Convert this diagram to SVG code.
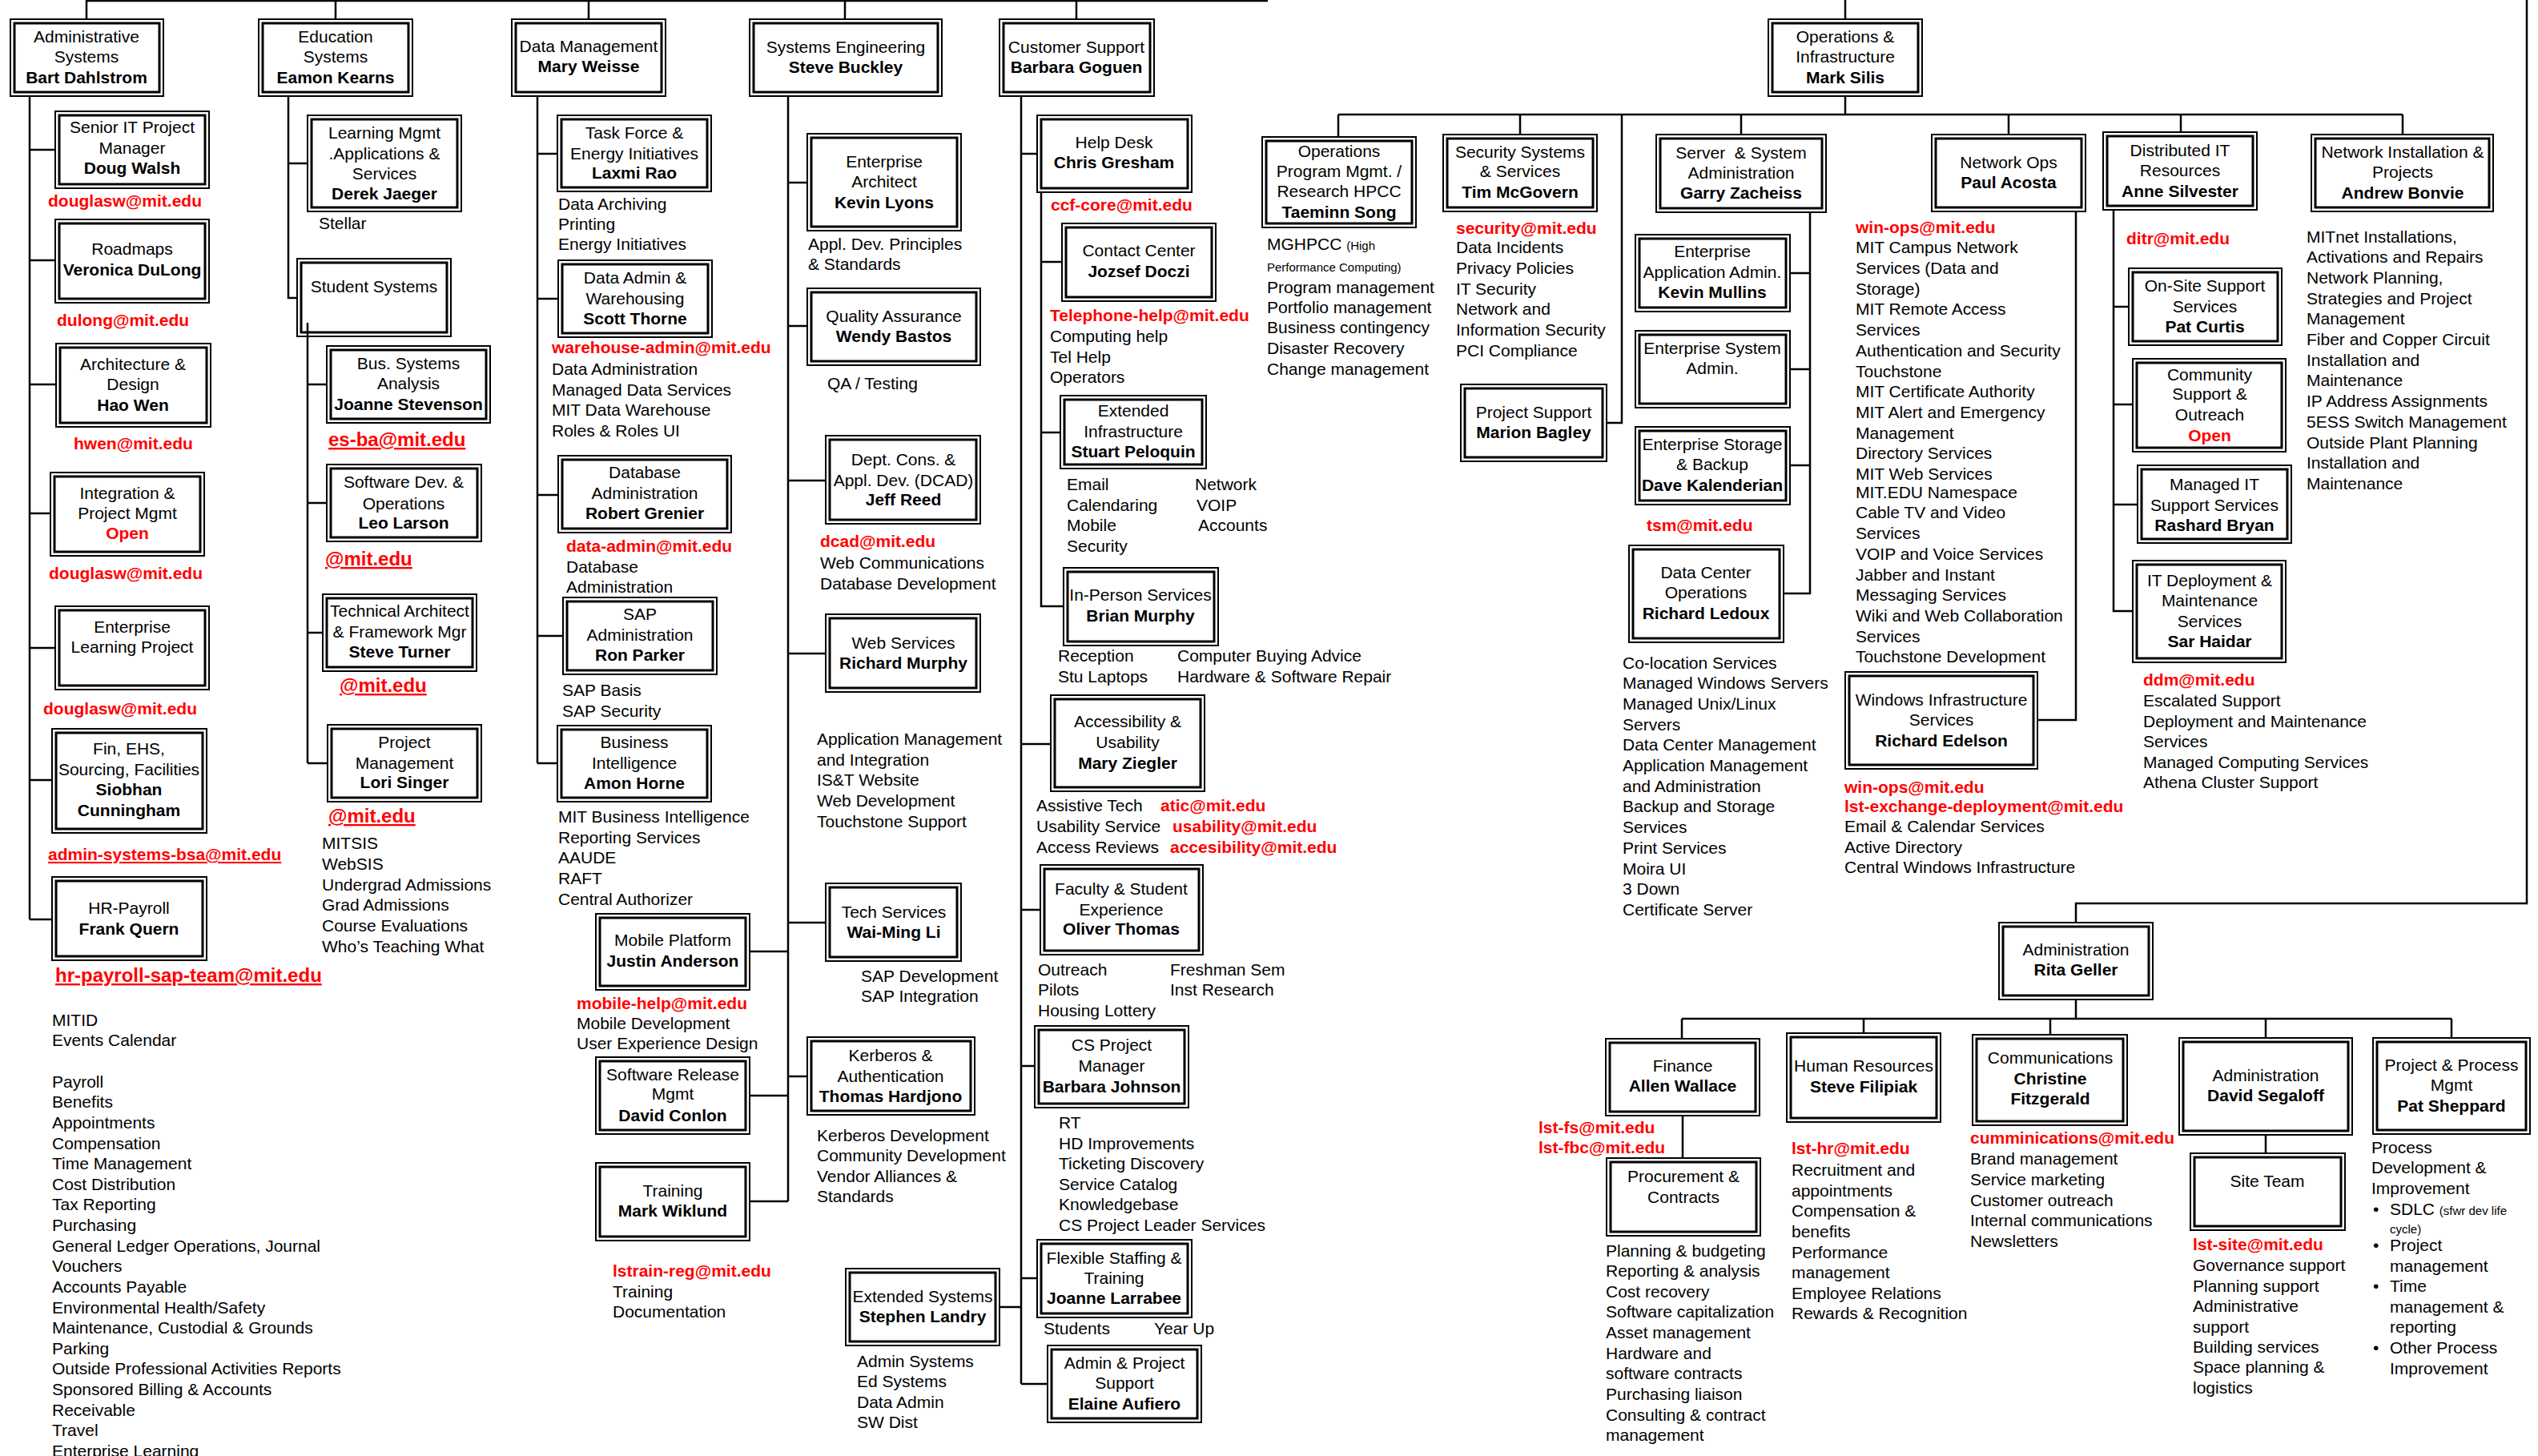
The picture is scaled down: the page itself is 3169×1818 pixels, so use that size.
<svg xmlns="http://www.w3.org/2000/svg" width="3169" height="1818" viewBox="0 0 3169 1818">
<style>
text{font-family:"Liberation Sans",Arial,sans-serif;font-size:21px;fill:#000}
.m{text-anchor:middle}
.b{font-weight:bold}
.r{fill:#f00;font-weight:bold}
.u{text-decoration:underline}
.L{font-size:24px}
.s{font-size:15px}
.ln{stroke:#000;stroke-width:2.5;fill:none}
.bo{fill:#fff;stroke:#000;stroke-width:2}
.bi{fill:none;stroke:#000;stroke-width:3}
</style>
<rect width="3169" height="1818" fill="#fff"/>
<g id="connectors" class="ln">
<path d="M108,1H1583M108,0V24M419,0V24M735,0V24M1055,0V24M1344,0V24"/>
<path d="M2304,0V24M2304,120V143M1671,143H3000M1671,143V171M1898,143V168M2025,143V528H2006M2174,143V168M2508,143V168M2723,143V165M3000,143V168"/>
<path d="M37,120V1148M37,187H69M37,325H69M37,480H70M37,641H63M37,809H69M37,974H65M37,1148H65"/>
<path d="M360,120V372H371M360,204H384M384,403V953M384,480H408M384,628H408M384,790H403M384,953H409"/>
<path d="M671,120V953M671,192H696M671,373H697M671,618H697M671,794H703M671,953H696"/>
<path d="M984,120V1500M984,228H1008M984,407H1008M984,600H1031M984,816H1031M984,1152H1031M984,1344H1008M984,1188H936M984,1368H936M984,1500H936"/>
<path d="M1275,120V1728M1275,192H1295M1275,929H1312M1275,1136H1299M1275,1331H1292M1275,1596H1295M1275,1632H1248M1275,1728H1308"/>
<path d="M1300,240V757H1328M1300,327H1326M1300,540H1324"/>
<path d="M2260,265V741H2227M2260,341H2235M2260,461H2235M2260,581H2235"/>
<path d="M2592,264V899H2544"/>
<path d="M2639,262V763H2663M2639,383H2658M2639,505H2663M2639,630H2669"/>
<path d="M3155,0V1128H2592V1152M2592,1248V1272M2100,1272H3061M2100,1272V1297M2327,1272V1290M2560,1272V1292M2829,1272V1296M3061,1272V1296M2101,1393V1446M2829,1417V1440"/>
</g>

<g id="admin-systems"><rect class="bo" x="13" y="24" width="191" height="96"/><rect class="bi" x="18" y="29" width="181" height="86"/>
<text class="m" x="108" y="53">Administrative</text><text class="m" x="108" y="78">Systems</text><text class="m b" x="108" y="104">Bart Dahlstrom</text></g>
<g id="senior-it"><rect class="bo" x="69" y="139" width="192" height="96"/><rect class="bi" x="74" y="144" width="182" height="86"/>
<text class="m" x="165" y="166">Senior IT Project</text><text class="m" x="165" y="192">Manager</text><text class="m b" x="165" y="217">Doug Walsh</text>
<text class="r" x="60" y="258">douglasw@mit.edu</text></g>
<g id="roadmaps"><rect class="bo" x="69" y="274" width="192" height="104"/><rect class="bi" x="74" y="279" width="182" height="94"/>
<text class="m" x="165" y="318">Roadmaps</text><text class="m b" x="165" y="344">Veronica DuLong</text>
<text class="r" x="71" y="407">dulong@mit.edu</text></g>
<g id="architecture"><rect class="bo" x="70" y="429" width="193" height="104"/><rect class="bi" x="75" y="434" width="183" height="94"/>
<text class="m" x="166" y="462">Architecture &amp;</text><text class="m" x="166" y="487">Design</text><text class="m b" x="166" y="513">Hao Wen</text>
<text class="r" x="92" y="561">hwen@mit.edu</text></g>
<g id="integration"><rect class="bo" x="63" y="590" width="192" height="104"/><rect class="bi" x="68" y="595" width="182" height="94"/>
<text class="m" x="159" y="623">Integration &amp;</text><text class="m" x="159" y="648">Project Mgmt</text><text class="m r" x="159" y="673">Open</text>
<text class="r" x="61" y="723">douglasw@mit.edu</text></g>
<g id="enterprise-learning"><rect class="bo" x="69" y="757" width="192" height="104"/><rect class="bi" x="74" y="762" width="182" height="94"/>
<text class="m" x="165" y="790">Enterprise</text><text class="m" x="165" y="815">Learning Project</text>
<text class="r" x="54" y="892">douglasw@mit.edu</text></g>
<g id="fin-ehs"><rect class="bo" x="65" y="910" width="193" height="130"/><rect class="bi" x="70" y="915" width="183" height="120"/>
<text class="m" x="161" y="942">Fin, EHS,</text><text class="m" x="161" y="968">Sourcing, Facilities</text><text class="m b" x="161" y="993">Siobhan</text><text class="m b" x="161" y="1019">Cunningham</text>
<text class="r u" x="60" y="1074">admin-systems-bsa@mit.edu</text></g>
<g id="hr-payroll"><rect class="bo" x="65" y="1095" width="193" height="104"/><rect class="bi" x="70" y="1100" width="183" height="94"/>
<text class="m" x="161" y="1141">HR-Payroll</text><text class="m b" x="161" y="1167">Frank Quern</text>
<text class="r u L" x="69" y="1226">hr-payroll-sap-team@mit.edu</text>
<text><tspan x="65" y="1281">MITID</tspan><tspan x="65" y="1306">Events Calendar</tspan><tspan x="65" y="1358">Payroll</tspan><tspan x="65" y="1383">Benefits</tspan><tspan x="65" y="1409">Appointments</tspan><tspan x="65" y="1435">Compensation</tspan><tspan x="65" y="1460">Time Management</tspan><tspan x="65" y="1486">Cost Distribution</tspan><tspan x="65" y="1511">Tax Reporting</tspan><tspan x="65" y="1537">Purchasing</tspan><tspan x="65" y="1563">General Ledger Operations, Journal</tspan><tspan x="65" y="1588">Vouchers</tspan><tspan x="65" y="1614">Accounts Payable</tspan><tspan x="65" y="1640">Environmental Health/Safety</tspan><tspan x="65" y="1665">Maintenance, Custodial &amp; Grounds</tspan><tspan x="65" y="1691">Parking</tspan><tspan x="65" y="1716">Outside Professional Activities Reports</tspan><tspan x="65" y="1742">Sponsored Billing &amp; Accounts</tspan><tspan x="65" y="1768">Receivable</tspan><tspan x="65" y="1793">Travel</tspan><tspan x="65" y="1819">Enterprise Learning</tspan></text></g>

<g id="education-systems"><rect class="bo" x="323" y="24" width="192" height="96"/><rect class="bi" x="328" y="29" width="182" height="86"/>
<text class="m" x="419" y="53">Education</text><text class="m" x="419" y="78">Systems</text><text class="m b" x="419" y="104">Eamon Kearns</text></g>
<g id="learning-mgmt"><rect class="bo" x="384" y="144" width="192" height="120"/><rect class="bi" x="389" y="149" width="182" height="110"/>
<text class="m" x="480" y="173">Learning Mgmt</text><text class="m" x="480" y="199">.Applications &amp;</text><text class="m" x="480" y="224">Services</text><text class="m b" x="480" y="249">Derek Jaeger</text>
<text x="398" y="286">Stellar</text></g>
<g id="student-systems"><rect class="bo" x="371" y="323" width="192" height="97"/><rect class="bi" x="376" y="328" width="182" height="87"/>
<text class="m" x="467" y="365">Student Systems</text></g>
<path class="ln" d="M384,403V420"/>
<g id="bus-systems"><rect class="bo" x="408" y="432" width="204" height="96"/><rect class="bi" x="413" y="437" width="194" height="86"/>
<text class="m" x="510" y="461">Bus. Systems</text><text class="m" x="510" y="486">Analysis</text><text class="m b" x="510" y="512">Joanne Stevenson</text>
<text class="r u L" x="410" y="557">es-ba@mit.edu</text></g>
<g id="software-dev"><rect class="bo" x="408" y="580" width="193" height="96"/><rect class="bi" x="413" y="585" width="183" height="86"/>
<text class="m" x="504" y="609">Software Dev. &amp;</text><text class="m" x="504" y="636">Operations</text><text class="m b" x="504" y="660">Leo Larson</text>
<text class="r u L" x="406" y="706">@mit.edu</text></g>
<g id="tech-architect"><rect class="bo" x="403" y="742" width="192" height="96"/><rect class="bi" x="408" y="747" width="182" height="86"/>
<text class="m" x="499" y="770">Technical Architect</text><text class="m" x="499" y="796">&amp; Framework Mgr</text><text class="m b" x="499" y="821">Steve Turner</text>
<text class="r u L" x="424" y="864">@mit.edu</text></g>
<g id="project-mgmt"><rect class="bo" x="409" y="905" width="192" height="96"/><rect class="bi" x="414" y="910" width="182" height="86"/>
<text class="m" x="505" y="934">Project</text><text class="m" x="505" y="960">Management</text><text class="m b" x="505" y="984">Lori Singer</text>
<text class="r u L" x="410" y="1027">@mit.edu</text>
<text><tspan x="402" y="1060">MITSIS</tspan><tspan x="402" y="1086">WebSIS</tspan><tspan x="402" y="1112">Undergrad Admissions</tspan><tspan x="402" y="1137">Grad Admissions</tspan><tspan x="402" y="1163">Course Evaluations</tspan><tspan x="402" y="1189">Who’s Teaching What</tspan></text></g>

<g id="data-management"><rect class="bo" x="639" y="24" width="192" height="96"/><rect class="bi" x="644" y="29" width="182" height="86"/>
<text class="m" x="735" y="65">Data Management</text><text class="m b" x="735" y="90">Mary Weisse</text></g>
<g id="task-force"><rect class="bo" x="696" y="144" width="192" height="95"/><rect class="bi" x="701" y="149" width="182" height="85"/>
<text class="m" x="792" y="173">Task Force &amp;</text><text class="m" x="792" y="199">Energy Initiatives</text><text class="m b" x="792" y="223">Laxmi Rao</text>
<text><tspan x="697" y="262">Data Archiving</tspan><tspan x="697" y="287">Printing</tspan><tspan x="697" y="312">Energy Initiatives</tspan></text></g>
<g id="data-admin"><rect class="bo" x="697" y="325" width="192" height="96"/><rect class="bi" x="702" y="330" width="182" height="86"/>
<text class="m" x="793" y="354">Data Admin &amp;</text><text class="m" x="793" y="380">Warehousing</text><text class="m b" x="793" y="405">Scott Thorne</text>
<text class="r" x="689" y="441">warehouse-admin@mit.edu</text>
<text><tspan x="689" y="468">Data Administration</tspan><tspan x="689" y="494">Managed Data Services</tspan><tspan x="689" y="519">MIT Data Warehouse</tspan><tspan x="689" y="545">Roles &amp; Roles UI</tspan></text></g>
<g id="database-admin"><rect class="bo" x="697" y="569" width="216" height="96"/><rect class="bi" x="702" y="574" width="206" height="86"/>
<text class="m" x="805" y="597">Database</text><text class="m" x="805" y="623">Administration</text><text class="m b" x="805" y="648">Robert Grenier</text>
<text class="r" x="707" y="689">data-admin@mit.edu</text>
<text><tspan x="707" y="715">Database</tspan><tspan x="707" y="740">Administration</tspan></text></g>
<g id="sap-admin"><rect class="bo" x="703" y="746" width="192" height="96"/><rect class="bi" x="708" y="751" width="182" height="86"/>
<text class="m" x="799" y="774">SAP</text><text class="m" x="799" y="800">Administration</text><text class="m b" x="799" y="825">Ron Parker</text>
<text><tspan x="702" y="869">SAP Basis</tspan><tspan x="702" y="895">SAP Security</tspan></text></g>
<g id="business-intelligence"><rect class="bo" x="696" y="906" width="192" height="95"/><rect class="bi" x="701" y="911" width="182" height="85"/>
<text class="m" x="792" y="934">Business</text><text class="m" x="792" y="960">Intelligence</text><text class="m b" x="792" y="985">Amon Horne</text>
<text><tspan x="697" y="1027">MIT Business Intelligence</tspan><tspan x="697" y="1053">Reporting Services</tspan><tspan x="697" y="1078">AAUDE</tspan><tspan x="697" y="1104">RAFT</tspan><tspan x="697" y="1130">Central Authorizer</tspan></text></g>
<g id="mobile-platform"><rect class="bo" x="744" y="1141" width="192" height="95"/><rect class="bi" x="749" y="1146" width="182" height="85"/>
<text class="m" x="840" y="1181">Mobile Platform</text><text class="m b" x="840" y="1207">Justin Anderson</text>
<text class="r" x="720" y="1260">mobile-help@mit.edu</text>
<text><tspan x="720" y="1285">Mobile Development</tspan><tspan x="720" y="1310">User Experience Design</tspan></text></g>
<g id="software-release"><rect class="bo" x="744" y="1320" width="192" height="96"/><rect class="bi" x="749" y="1325" width="182" height="86"/>
<text class="m" x="840" y="1349">Software Release</text><text class="m" x="840" y="1373">Mgmt</text><text class="m b" x="840" y="1400">David Conlon</text></g>
<g id="training"><rect class="bo" x="744" y="1452" width="192" height="97"/><rect class="bi" x="749" y="1457" width="182" height="87"/>
<text class="m" x="840" y="1494">Training</text><text class="m b" x="840" y="1519">Mark Wiklund</text>
<text class="r" x="765" y="1594">lstrain-reg@mit.edu</text>
<text><tspan x="765" y="1620">Training</tspan><tspan x="765" y="1645">Documentation</tspan></text></g>

<g id="systems-engineering"><rect class="bo" x="936" y="24" width="240" height="96"/><rect class="bi" x="941" y="29" width="230" height="86"/>
<text class="m" x="1056" y="66">Systems Engineering</text><text class="m b" x="1056" y="91">Steve Buckley</text></g>
<g id="enterprise-architect"><rect class="bo" x="1008" y="167" width="192" height="121"/><rect class="bi" x="1013" y="172" width="182" height="111"/>
<text class="m" x="1104" y="209">Enterprise</text><text class="m" x="1104" y="234">Architect</text><text class="m b" x="1104" y="260">Kevin Lyons</text>
<text><tspan x="1009" y="312">Appl. Dev. Principles</tspan><tspan x="1009" y="337">&amp; Standards</tspan></text></g>
<g id="quality-assurance"><rect class="bo" x="1008" y="360" width="216" height="96"/><rect class="bi" x="1013" y="365" width="206" height="86"/>
<text class="m" x="1116" y="402">Quality Assurance</text><text class="m b" x="1116" y="427">Wendy Bastos</text>
<text x="1033" y="486">QA / Testing</text></g>
<g id="dcad"><rect class="bo" x="1031" y="544" width="193" height="110"/><rect class="bi" x="1036" y="549" width="183" height="100"/>
<text class="m" x="1128" y="581">Dept. Cons. &amp;</text><text class="m" x="1128" y="607">Appl. Dev. (DCAD)</text><text class="m b" x="1128" y="631">Jeff Reed</text>
<text class="r" x="1024" y="683">dcad@mit.edu</text>
<text><tspan x="1024" y="710">Web Communications</tspan><tspan x="1024" y="736">Database Development</tspan></text></g>
<g id="web-services"><rect class="bo" x="1031" y="767" width="193" height="97"/><rect class="bi" x="1036" y="772" width="183" height="87"/>
<text class="m" x="1128" y="810">Web Services</text><text class="m b" x="1128" y="835">Richard Murphy</text>
<text><tspan x="1020" y="930">Application Management</tspan><tspan x="1020" y="956">and Integration</tspan><tspan x="1020" y="981">IS&amp;T Website</tspan><tspan x="1020" y="1007">Web Development</tspan><tspan x="1020" y="1033">Touchstone Support</tspan></text></g>
<g id="tech-services"><rect class="bo" x="1031" y="1103" width="169" height="97"/><rect class="bi" x="1036" y="1108" width="159" height="87"/>
<text class="m" x="1116" y="1146">Tech Services</text><text class="m b" x="1116" y="1171">Wai-Ming Li</text>
<text><tspan x="1075" y="1226">SAP Development</tspan><tspan x="1075" y="1251">SAP Integration</tspan></text></g>
<g id="kerberos"><rect class="bo" x="1008" y="1295" width="209" height="97"/><rect class="bi" x="1013" y="1300" width="199" height="87"/>
<text class="m" x="1112" y="1325">Kerberos &amp;</text><text class="m" x="1112" y="1351">Authentication</text><text class="m b" x="1112" y="1376">Thomas Hardjono</text>
<text><tspan x="1020" y="1425">Kerberos Development</tspan><tspan x="1020" y="1450">Community Development</tspan><tspan x="1020" y="1476">Vendor Alliances &amp;</tspan><tspan x="1020" y="1501">Standards</tspan></text></g>

<g id="customer-support"><rect class="bo" x="1248" y="24" width="193" height="96"/><rect class="bi" x="1253" y="29" width="183" height="86"/>
<text class="m" x="1344" y="66">Customer Support</text><text class="m b" x="1344" y="91">Barbara Goguen</text></g>
<g id="help-desk"><rect class="bo" x="1295" y="144" width="193" height="96"/><rect class="bi" x="1300" y="149" width="183" height="86"/>
<text class="m" x="1391" y="185">Help Desk</text><text class="m b" x="1391" y="210">Chris Gresham</text>
<text class="r" x="1312" y="263">ccf-core@mit.edu</text></g>
<g id="contact-center"><rect class="bo" x="1326" y="279" width="192" height="97"/><rect class="bi" x="1331" y="284" width="182" height="87"/>
<text class="m" x="1422" y="320">Contact Center</text><text class="m b" x="1422" y="346">Jozsef Doczi</text>
<text class="r" x="1311" y="401">Telephone-help@mit.edu</text>
<text><tspan x="1311" y="427">Computing help</tspan><tspan x="1311" y="453">Tel Help</tspan><tspan x="1311" y="478">Operators</tspan></text></g>
<g id="extended-infrastructure"><rect class="bo" x="1324" y="494" width="182" height="91"/><rect class="bi" x="1329" y="499" width="172" height="81"/>
<text class="m" x="1415" y="520">Extended</text><text class="m" x="1415" y="546">Infrastructure</text><text class="m b" x="1415" y="571">Stuart Peloquin</text>
<text><tspan x="1332" y="612">Email</tspan><tspan x="1332" y="638">Calendaring</tspan><tspan x="1332" y="663">Mobile</tspan><tspan x="1332" y="689">Security</tspan></text>
<text><tspan x="1492" y="612">Network</tspan><tspan x="1494" y="638">VOIP</tspan><tspan x="1496" y="663">Accounts</tspan></text></g>
<g id="in-person"><rect class="bo" x="1328" y="709" width="193" height="97"/><rect class="bi" x="1333" y="714" width="183" height="87"/>
<text class="m" x="1424" y="750">In-Person Services</text><text class="m b" x="1424" y="776">Brian Murphy</text>
<text><tspan x="1321" y="826">Reception</tspan><tspan x="1321" y="852">Stu Laptops</tspan></text>
<text><tspan x="1470" y="826">Computer Buying Advice</tspan><tspan x="1470" y="852">Hardware &amp; Software Repair</tspan></text></g>
<g id="accessibility"><rect class="bo" x="1312" y="868" width="192" height="120"/><rect class="bi" x="1317" y="873" width="182" height="110"/>
<text class="m" x="1408" y="908">Accessibility &amp;</text><text class="m" x="1408" y="934">Usability</text><text class="m b" x="1408" y="960">Mary Ziegler</text>
<text><tspan x="1294" y="1013">Assistive Tech</tspan><tspan x="1294" y="1039">Usability Service</tspan><tspan x="1294" y="1065">Access Reviews</tspan></text>
<text class="r" x="1449" y="1013">atic@mit.edu</text><text class="r" x="1464" y="1039">usability@mit.edu</text><text class="r" x="1461" y="1065">accesibility@mit.edu</text></g>
<g id="faculty-student"><rect class="bo" x="1299" y="1080" width="203" height="112"/><rect class="bi" x="1304" y="1085" width="193" height="102"/>
<text class="m" x="1400" y="1117">Faculty &amp; Student</text><text class="m" x="1400" y="1143">Experience</text><text class="m b" x="1400" y="1167">Oliver Thomas</text>
<text><tspan x="1296" y="1218">Outreach</tspan><tspan x="1296" y="1243">Pilots</tspan><tspan x="1296" y="1269">Housing Lottery</tspan></text>
<text><tspan x="1461" y="1218">Freshman Sem</tspan><tspan x="1461" y="1243">Inst Research</tspan></text></g>
<g id="cs-project-manager"><rect class="bo" x="1292" y="1281" width="192" height="102"/><rect class="bi" x="1297" y="1286" width="182" height="92"/>
<text class="m" x="1388" y="1312">CS Project</text><text class="m" x="1388" y="1338">Manager</text><text class="m b" x="1388" y="1364">Barbara Johnson</text>
<text><tspan x="1322" y="1409">RT</tspan><tspan x="1322" y="1435">HD Improvements</tspan><tspan x="1322" y="1460">Ticketing Discovery</tspan><tspan x="1322" y="1486">Service Catalog</tspan><tspan x="1322" y="1511">Knowledgebase</tspan><tspan x="1322" y="1537">CS Project Leader Services</tspan></text></g>
<g id="flexible-staffing"><rect class="bo" x="1295" y="1548" width="193" height="97"/><rect class="bi" x="1300" y="1553" width="183" height="87"/>
<text class="m" x="1391" y="1578">Flexible Staffing &amp;</text><text class="m" x="1391" y="1603">Training</text><text class="m b" x="1391" y="1628">Joanne Larrabee</text>
<text x="1303" y="1666">Students</text><text x="1441" y="1666">Year Up</text></g>
<g id="extended-systems"><rect class="bo" x="1056" y="1584" width="192" height="96"/><rect class="bi" x="1061" y="1589" width="182" height="86"/>
<text class="m" x="1152" y="1626">Extended Systems</text><text class="m b" x="1152" y="1651">Stephen Landry</text>
<text><tspan x="1070" y="1707">Admin Systems</tspan><tspan x="1070" y="1732">Ed Systems</tspan><tspan x="1070" y="1758">Data Admin</tspan><tspan x="1070" y="1783">SW Dist</tspan></text></g>
<g id="admin-project-support"><rect class="bo" x="1308" y="1680" width="192" height="96"/><rect class="bi" x="1313" y="1685" width="182" height="86"/>
<text class="m" x="1404" y="1709">Admin &amp; Project</text><text class="m" x="1404" y="1734">Support</text><text class="m b" x="1404" y="1760">Elaine Aufiero</text></g>

<g id="operations-infrastructure"><rect class="bo" x="2208" y="24" width="192" height="96"/><rect class="bi" x="2213" y="29" width="182" height="86"/>
<text class="m" x="2304" y="53">Operations &amp;</text><text class="m" x="2304" y="78">Infrastructure</text><text class="m b" x="2304" y="104">Mark Silis</text></g>
<g id="ops-program"><rect class="bo" x="1576" y="171" width="192" height="113"/><rect class="bi" x="1581" y="176" width="182" height="103"/>
<text class="m" x="1672" y="196">Operations</text><text class="m" x="1672" y="221">Program Mgmt. /</text><text class="m" x="1672" y="246">Research HPCC</text><text class="m b" x="1672" y="272">Taeminn Song</text>
<text x="1582" y="312">MGHPCC <tspan class="s">(High</tspan></text><text class="s" x="1582" y="339">Performance Computing)</text>
<text><tspan x="1582" y="366">Program management</tspan><tspan x="1582" y="391">Portfolio management</tspan><tspan x="1582" y="416">Business contingency</tspan><tspan x="1582" y="442">Disaster Recovery</tspan><tspan x="1582" y="468">Change management</tspan></text></g>
<g id="security-systems"><rect class="bo" x="1802" y="168" width="192" height="96"/><rect class="bi" x="1807" y="173" width="182" height="86"/>
<text class="m" x="1898" y="197">Security Systems</text><text class="m" x="1898" y="221">&amp; Services</text><text class="m b" x="1898" y="247">Tim McGovern</text>
<text class="r" x="1818" y="292">security@mit.edu</text>
<text><tspan x="1818" y="316">Data Incidents</tspan><tspan x="1818" y="342">Privacy Policies</tspan><tspan x="1818" y="368">IT Security</tspan><tspan x="1818" y="393">Network and</tspan><tspan x="1818" y="419">Information Security</tspan><tspan x="1818" y="445">PCI Compliance</tspan></text></g>
<g id="project-support"><rect class="bo" x="1824" y="480" width="182" height="96"/><rect class="bi" x="1829" y="485" width="172" height="86"/>
<text class="m" x="1915" y="522">Project Support</text><text class="m b" x="1915" y="547">Marion Bagley</text></g>
<g id="server-system-admin"><rect class="bo" x="2068" y="168" width="212" height="97"/><rect class="bi" x="2073" y="173" width="202" height="87"/>
<text class="m" x="2174" y="198" xml:space="preserve">Server  &amp; System</text><text class="m" x="2174" y="223">Administration</text><text class="m b" x="2174" y="248">Garry Zacheiss</text></g>
<g id="enterprise-app-admin"><rect class="bo" x="2042" y="293" width="193" height="96"/><rect class="bi" x="2047" y="298" width="183" height="86"/>
<text class="m" x="2138" y="321">Enterprise</text><text class="m" x="2138" y="347">Application Admin.</text><text class="m b" x="2138" y="372">Kevin Mullins</text></g>
<g id="enterprise-system-admin"><rect class="bo" x="2042" y="413" width="193" height="96"/><rect class="bi" x="2047" y="418" width="183" height="86"/>
<text class="m" x="2138" y="442">Enterprise System</text><text class="m" x="2138" y="467">Admin.</text></g>
<g id="enterprise-storage"><rect class="bo" x="2042" y="533" width="193" height="97"/><rect class="bi" x="2047" y="538" width="183" height="87"/>
<text class="m" x="2138" y="562">Enterprise Storage</text><text class="m" x="2138" y="587">&amp; Backup</text><text class="m b" x="2138" y="613">Dave Kalenderian</text>
<text class="r" x="2056" y="663">tsm@mit.edu</text></g>
<g id="data-center-ops"><rect class="bo" x="2034" y="681" width="193" height="121"/><rect class="bi" x="2039" y="686" width="183" height="111"/>
<text class="m" x="2130" y="722">Data Center</text><text class="m" x="2130" y="747">Operations</text><text class="m b" x="2130" y="773">Richard Ledoux</text>
<text><tspan x="2026" y="835">Co-location Services</tspan><tspan x="2026" y="860">Managed Windows Servers</tspan><tspan x="2026" y="886">Managed Unix/Linux</tspan><tspan x="2026" y="912">Servers</tspan><tspan x="2026" y="937">Data Center Management</tspan><tspan x="2026" y="963">Application Management</tspan><tspan x="2026" y="989">and Administration</tspan><tspan x="2026" y="1014">Backup and Storage</tspan><tspan x="2026" y="1040">Services</tspan><tspan x="2026" y="1066">Print Services</tspan><tspan x="2026" y="1092">Moira UI</tspan><tspan x="2026" y="1117">3 Down</tspan><tspan x="2026" y="1143">Certificate Server</tspan></text></g>
<g id="network-ops"><rect class="bo" x="2412" y="168" width="192" height="96"/><rect class="bi" x="2417" y="173" width="182" height="86"/>
<text class="m" x="2508" y="210">Network Ops</text><text class="m b" x="2508" y="235">Paul Acosta</text>
<text class="r" x="2317" y="291">win-ops@mit.edu</text>
<text><tspan x="2317" y="316">MIT Campus Network</tspan><tspan x="2317" y="342">Services (Data and</tspan><tspan x="2317" y="368">Storage)</tspan><tspan x="2317" y="393">MIT Remote Access</tspan><tspan x="2317" y="419">Services</tspan><tspan x="2317" y="445">Authentication and Security</tspan><tspan x="2317" y="471">Touchstone</tspan><tspan x="2317" y="496">MIT Certificate Authority</tspan><tspan x="2317" y="522">MIT Alert and Emergency</tspan><tspan x="2317" y="548">Management</tspan><tspan x="2317" y="573">Directory Services</tspan><tspan x="2317" y="599">MIT Web Services</tspan><tspan x="2317" y="622">MIT.EDU Namespace</tspan><tspan x="2317" y="647">Cable TV and Video</tspan><tspan x="2317" y="673">Services</tspan><tspan x="2317" y="699">VOIP and Voice Services</tspan><tspan x="2317" y="725">Jabber and Instant</tspan><tspan x="2317" y="750">Messaging Services</tspan><tspan x="2317" y="776">Wiki and Web Collaboration</tspan><tspan x="2317" y="802">Services</tspan><tspan x="2317" y="827">Touchstone Development</tspan></text></g>
<g id="windows-infrastructure"><rect class="bo" x="2304" y="839" width="240" height="121"/><rect class="bi" x="2309" y="844" width="230" height="111"/>
<text class="m" x="2424" y="881">Windows Infrastructure</text><text class="m" x="2424" y="906">Services</text><text class="m b" x="2424" y="932">Richard Edelson</text>
<text class="r" x="2303" y="990">win-ops@mit.edu</text><text class="r" x="2303" y="1014">lst-exchange-deployment@mit.edu</text>
<text><tspan x="2303" y="1039">Email &amp; Calendar Services</tspan><tspan x="2303" y="1065">Active Directory</tspan><tspan x="2303" y="1090">Central Windows Infrastructure</tspan></text></g>
<g id="distributed-it"><rect class="bo" x="2626" y="165" width="192" height="97"/><rect class="bi" x="2631" y="170" width="182" height="87"/>
<text class="m" x="2722" y="195">Distributed IT</text><text class="m" x="2722" y="220">Resources</text><text class="m b" x="2722" y="246">Anne Silvester</text>
<text class="r" x="2655" y="305">ditr@mit.edu</text></g>
<g id="on-site-support"><rect class="bo" x="2658" y="335" width="191" height="96"/><rect class="bi" x="2663" y="340" width="181" height="86"/>
<text class="m" x="2753" y="364">On-Site Support</text><text class="m" x="2753" y="390">Services</text><text class="m b" x="2753" y="415">Pat Curtis</text></g>
<g id="community-support"><rect class="bo" x="2663" y="448" width="191" height="116"/><rect class="bi" x="2668" y="453" width="181" height="106"/>
<text class="m" x="2759" y="475">Community</text><text class="m" x="2759" y="499">Support &amp;</text><text class="m" x="2759" y="525">Outreach</text><text class="m r" x="2759" y="551">Open</text></g>
<g id="managed-it"><rect class="bo" x="2669" y="581" width="192" height="97"/><rect class="bi" x="2674" y="586" width="182" height="87"/>
<text class="m" x="2765" y="612">Managed IT</text><text class="m" x="2765" y="638">Support Services</text><text class="m b" x="2765" y="663">Rashard Bryan</text></g>
<g id="it-deployment"><rect class="bo" x="2663" y="700" width="191" height="127"/><rect class="bi" x="2668" y="705" width="181" height="117"/>
<text class="m" x="2759" y="732">IT Deployment &amp;</text><text class="m" x="2759" y="757">Maintenance</text><text class="m" x="2759" y="783">Services</text><text class="m b" x="2759" y="808">Sar Haidar</text>
<text class="r" x="2676" y="856">ddm@mit.edu</text>
<text><tspan x="2676" y="882">Escalated Support</tspan><tspan x="2676" y="908">Deployment and Maintenance</tspan><tspan x="2676" y="933">Services</tspan><tspan x="2676" y="959">Managed Computing Services</tspan><tspan x="2676" y="984">Athena Cluster Support</tspan></text></g>
<g id="network-installation"><rect class="bo" x="2886" y="168" width="227" height="96"/><rect class="bi" x="2891" y="173" width="217" height="86"/>
<text class="m" x="3000" y="197">Network Installation &amp;</text><text class="m" x="3000" y="222">Projects</text><text class="m b" x="3000" y="248">Andrew Bonvie</text>
<text><tspan x="2880" y="303">MITnet Installations,</tspan><tspan x="2880" y="328">Activations and Repairs</tspan><tspan x="2880" y="354">Network Planning,</tspan><tspan x="2880" y="380">Strategies and Project</tspan><tspan x="2880" y="405">Management</tspan><tspan x="2880" y="431">Fiber and Copper Circuit</tspan><tspan x="2880" y="457">Installation and</tspan><tspan x="2880" y="482">Maintenance</tspan><tspan x="2880" y="508">IP Address Assignments</tspan><tspan x="2880" y="534">5ESS Switch Management</tspan><tspan x="2880" y="560">Outside Plant Planning</tspan><tspan x="2880" y="585">Installation and</tspan><tspan x="2880" y="611">Maintenance</tspan></text></g>

<g id="administration-rita"><rect class="bo" x="2496" y="1152" width="192" height="96"/><rect class="bi" x="2501" y="1157" width="182" height="86"/>
<text class="m" x="2592" y="1193">Administration</text><text class="m b" x="2592" y="1218">Rita Geller</text></g>
<g id="finance"><rect class="bo" x="2005" y="1297" width="192" height="96"/><rect class="bi" x="2010" y="1302" width="182" height="86"/>
<text class="m" x="2101" y="1338">Finance</text><text class="m b" x="2101" y="1363">Allen Wallace</text>
<text class="r" x="1921" y="1415">lst-fs@mit.edu</text><text class="r" x="1921" y="1440">lst-fbc@mit.edu</text></g>
<g id="procurement"><rect class="bo" x="2006" y="1446" width="192" height="97"/><rect class="bi" x="2011" y="1451" width="182" height="87"/>
<text class="m" x="2102" y="1476">Procurement &amp;</text><text class="m" x="2102" y="1502">Contracts</text>
<text><tspan x="2005" y="1569">Planning &amp; budgeting</tspan><tspan x="2005" y="1594">Reporting &amp; analysis</tspan><tspan x="2005" y="1620">Cost recovery</tspan><tspan x="2005" y="1645">Software capitalization</tspan><tspan x="2005" y="1671">Asset management</tspan><tspan x="2005" y="1697">Hardware and</tspan><tspan x="2005" y="1722">software contracts</tspan><tspan x="2005" y="1748">Purchasing liaison</tspan><tspan x="2005" y="1774">Consulting &amp; contract</tspan><tspan x="2005" y="1799">management</tspan></text></g>
<g id="human-resources"><rect class="bo" x="2231" y="1290" width="192" height="111"/><rect class="bi" x="2236" y="1295" width="182" height="101"/>
<text class="m" x="2327" y="1338">Human Resources</text><text class="m b" x="2327" y="1364">Steve Filipiak</text>
<text class="r" x="2237" y="1441">lst-hr@mit.edu</text>
<text><tspan x="2237" y="1468">Recruitment and</tspan><tspan x="2237" y="1494">appointments</tspan><tspan x="2237" y="1519">Compensation &amp;</tspan><tspan x="2237" y="1545">benefits</tspan><tspan x="2237" y="1571">Performance</tspan><tspan x="2237" y="1596">management</tspan><tspan x="2237" y="1622">Employee Relations</tspan><tspan x="2237" y="1647">Rewards &amp; Recognition</tspan></text></g>
<g id="communications"><rect class="bo" x="2463" y="1292" width="193" height="113"/><rect class="bi" x="2468" y="1297" width="183" height="103"/>
<text class="m" x="2560" y="1328">Communications</text><text class="m b" x="2560" y="1354">Christine</text><text class="m b" x="2560" y="1379">Fitzgerald</text>
<text class="r" x="2460" y="1428">cumminications@mit.edu</text>
<text><tspan x="2460" y="1454">Brand management</tspan><tspan x="2460" y="1480">Service marketing</tspan><tspan x="2460" y="1506">Customer outreach</tspan><tspan x="2460" y="1531">Internal communications</tspan><tspan x="2460" y="1557">Newsletters</tspan></text></g>
<g id="administration-david"><rect class="bo" x="2721" y="1296" width="216" height="121"/><rect class="bi" x="2726" y="1301" width="206" height="111"/>
<text class="m" x="2829" y="1350">Administration</text><text class="m b" x="2829" y="1375">David Segaloff</text></g>
<g id="site-team"><rect class="bo" x="2735" y="1440" width="193" height="96"/><rect class="bi" x="2740" y="1445" width="183" height="86"/>
<text class="m" x="2831" y="1482">Site Team</text>
<text class="r" x="2738" y="1561">lst-site@mit.edu</text>
<text><tspan x="2738" y="1587">Governance support</tspan><tspan x="2738" y="1613">Planning support</tspan><tspan x="2738" y="1638">Administrative</tspan><tspan x="2738" y="1664">support</tspan><tspan x="2738" y="1689">Building services</tspan><tspan x="2738" y="1714">Space planning &amp;</tspan><tspan x="2738" y="1740">logistics</tspan></text></g>
<g id="project-process"><rect class="bo" x="2963" y="1296" width="196" height="120"/><rect class="bi" x="2968" y="1301" width="186" height="110"/>
<text class="m" x="3061" y="1337">Project &amp; Process</text><text class="m" x="3061" y="1362">Mgmt</text><text class="m b" x="3061" y="1388">Pat Sheppard</text>
<text><tspan x="2961" y="1440">Process</tspan><tspan x="2961" y="1465">Development &amp;</tspan><tspan x="2961" y="1491">Improvement</tspan></text>
<text><tspan x="2963" y="1517">•</tspan><tspan x="2963" y="1562">•</tspan><tspan x="2963" y="1613">•</tspan><tspan x="2963" y="1690">•</tspan></text>
<text x="2984" y="1517">SDLC <tspan class="s">(sfwr dev life</tspan></text><text class="s" x="2984" y="1540">cycle)</text>
<text><tspan x="2984" y="1562">Project</tspan><tspan x="2984" y="1588">management</tspan><tspan x="2984" y="1613">Time</tspan><tspan x="2984" y="1639">management &amp;</tspan><tspan x="2984" y="1664">reporting</tspan><tspan x="2984" y="1690">Other Process</tspan><tspan x="2984" y="1716">Improvement</tspan></text></g>
</svg>
